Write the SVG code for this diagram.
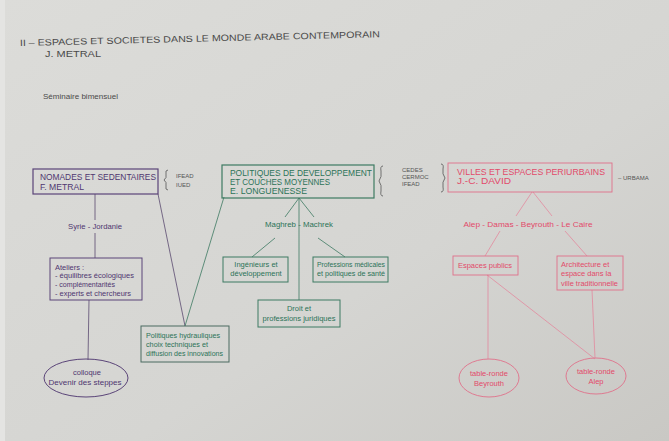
<svg xmlns="http://www.w3.org/2000/svg" width="669" height="441" viewBox="0 0 669 441">
<defs>
<linearGradient id="bg" x1="0" y1="0" x2="1" y2="1">
<stop offset="0" stop-color="#dcdcd9"/>
<stop offset="0.6" stop-color="#d5d5d2"/>
<stop offset="1" stop-color="#c9c8c4"/>
</linearGradient>
<style>
text{font-family:"Liberation Sans","DejaVu Sans",sans-serif;}
.t{fill:#4a4a4a;font-size:9px;}
.s{fill:#555;font-size:6px;}
.p{fill:#4f3670;}
.g{fill:#2c7358;}
.r{fill:#e24a6a;}
.pb{fill:none;stroke:#5a4478;stroke-width:1.2;}
.gb{fill:none;stroke:#3d7a62;stroke-width:1.2;}
.rb{fill:none;stroke:#e0708a;stroke-width:0.9;}
.pl{stroke:#5a4a70;stroke-width:0.8;fill:none;}
.gl{stroke:#3d7a62;stroke-width:0.8;fill:none;}
.rl{stroke:#e58098;stroke-width:0.7;fill:none;}
.br{stroke:#555;stroke-width:0.8;fill:none;}
.h{font-size:8.5px;}
.n{font-size:7.5px;}
.m{text-anchor:middle;}
</style>
</defs>
<rect x="0" y="0" width="669" height="441" fill="url(#bg)"/>
<rect x="0" y="0" width="5" height="441" fill="#e4e4e2"/>

<g id="title">
<text class="t" transform="rotate(-1.4 20 46)" x="20" y="46" textLength="360" lengthAdjust="spacingAndGlyphs">II – ESPACES ET SOCIETES DANS LE MONDE ARABE CONTEMPORAIN</text>
<text class="t" x="45" y="57" textLength="56" lengthAdjust="spacingAndGlyphs">J. METRAL</text>
<text class="t" x="43" y="99" style="font-size:8px" textLength="75" lengthAdjust="spacingAndGlyphs">Séminaire bimensuel</text>
</g>

<g id="connectors">
<line class="pl" x1="95" y1="194" x2="95" y2="220"/>
<line class="pl" x1="95" y1="233" x2="95" y2="258"/>
<line class="pl" x1="89" y1="300" x2="88" y2="360"/>
<line class="pl" x1="158" y1="194" x2="185" y2="326"/>
<line class="gl" x1="224" y1="197" x2="185" y2="326"/>
<line class="gl" x1="299" y1="198" x2="285" y2="217"/>
<line class="gl" x1="299" y1="198" x2="314" y2="217"/>
<line class="gl" x1="299" y1="198" x2="299" y2="300"/>
<line class="gl" x1="275" y1="238" x2="252" y2="257"/>
<line class="gl" x1="318" y1="238" x2="345" y2="257"/>
<line class="rl" x1="532" y1="192" x2="516" y2="216"/>
<line class="rl" x1="533" y1="192" x2="552" y2="216"/>
<line class="rl" x1="500" y1="231" x2="485" y2="256"/>
<line class="rl" x1="565" y1="231" x2="587" y2="256"/>
<line class="rl" x1="488" y1="275" x2="488" y2="359"/>
<line class="rl" x1="487" y1="275" x2="595" y2="359"/>
<line class="rl" x1="592" y1="290" x2="595" y2="358"/>
</g>

<g id="nomades">
<rect class="pb" x="33" y="169" width="125" height="25"/>
<text class="p h" x="40" y="180" textLength="116" lengthAdjust="spacingAndGlyphs">NOMADES ET SEDENTAIRES</text>
<text class="p h" x="40" y="190" textLength="44" lengthAdjust="spacingAndGlyphs">F. METRAL</text>
</g>
<g id="nomades-inst">
<path class="br" d="M168,170 q-3,0 -2,4 q1,4 -2,6 q3,2 2,6 q-1,4 2,4"/>
<text class="s" x="176" y="178">IFEAD</text>
<text class="s" x="176" y="187">IUED</text>
</g>
<g id="syrie">
<text class="p n m" x="95" y="229" textLength="54" lengthAdjust="spacingAndGlyphs">Syrie - Jordanie</text>
</g>
<g id="ateliers">
<rect class="pb" x="50" y="258" width="92" height="42" style="stroke-width:1"/>
<text class="p n" x="55" y="270">Ateliers :</text>
<text class="p n" x="55" y="278" textLength="79" lengthAdjust="spacingAndGlyphs">- équilibres écologiques</text>
<text class="p n" x="55" y="287" textLength="60" lengthAdjust="spacingAndGlyphs">- complémentarités</text>
<text class="p n" x="55" y="296" textLength="76" lengthAdjust="spacingAndGlyphs">- experts et chercheurs</text>
</g>
<g id="colloque">
<ellipse class="pb" cx="86" cy="378" rx="42" ry="19" style="stroke-width:1"/>
<text class="p n m" x="87" y="375">colloque</text>
<text class="p n m" x="85" y="385" textLength="73" lengthAdjust="spacingAndGlyphs">Devenir des steppes</text>
</g>
<g id="hydrauliques">
<rect class="gb" x="141" y="326" width="88" height="36" style="stroke:#4a6a60;stroke-width:1"/>
<text class="g n" x="146" y="338" textLength="74" lengthAdjust="spacingAndGlyphs">Politiques hydrauliques</text>
<text class="g n" x="146" y="347" textLength="62" lengthAdjust="spacingAndGlyphs">choix techniques et</text>
<text class="g n" x="146" y="356" textLength="77" lengthAdjust="spacingAndGlyphs">diffusion des innovations</text>
</g>

<g id="developpement">
<rect class="gb" x="222" y="165" width="152" height="33"/>
<text class="g h" x="230" y="176" textLength="142" lengthAdjust="spacingAndGlyphs">POLITIQUES DE DEVELOPPEMENT</text>
<text class="g h" x="230" y="185" textLength="100" lengthAdjust="spacingAndGlyphs">ET COUCHES MOYENNES</text>
<text class="g h" x="230" y="194" textLength="77" lengthAdjust="spacingAndGlyphs">E. LONGUENESSE</text>
</g>
<g id="instituts">
<path class="br" d="M383,166 q-3,0 -2,5 q1,6 -2,10 q3,4 2,10 q-1,5 2,5"/>
<text class="s" x="402" y="172">CEDES</text>
<text class="s" x="402" y="179">CERMOC</text>
<text class="s" x="402" y="186">IFEAD</text>
<path class="br" d="M441,164 q3,0 2,5 q-1,5 2,9 q-3,4 -2,9 q1,5 -2,5"/>
</g>
<g id="maghreb">
<text class="g n m" x="299" y="227" textLength="68" lengthAdjust="spacingAndGlyphs">Maghreb - Machrek</text>
</g>
<g id="ingenieurs">
<rect class="gb" x="223" y="257" width="65" height="25" style="stroke-width:1"/>
<text class="g n m" x="256" y="267">Ingénieurs et</text>
<text class="g n m" x="256" y="276">développement</text>
</g>
<g id="professions">
<rect class="gb" x="313" y="257" width="75" height="25" style="stroke-width:1"/>
<text class="g n m" x="351" y="267" textLength="68" lengthAdjust="spacingAndGlyphs">Professions médicales</text>
<text class="g n m" x="351" y="276" textLength="68" lengthAdjust="spacingAndGlyphs">et politiques de santé</text>
</g>
<g id="droit">
<rect class="gb" x="258" y="300" width="82" height="27" style="stroke-width:1"/>
<text class="g n m" x="299" y="311">Droit et</text>
<text class="g n m" x="299" y="321" textLength="73" lengthAdjust="spacingAndGlyphs">professions juridiques</text>
</g>

<g id="villes">
<rect class="rb" x="448" y="163" width="164" height="29"/>
<text class="r h" x="457" y="175" textLength="148" lengthAdjust="spacingAndGlyphs">VILLES ET ESPACES PERIURBAINS</text>
<text class="r h" x="457" y="184" textLength="54" lengthAdjust="spacingAndGlyphs">J.-C. DAVID</text>
</g>
<g id="urbama">
<text class="s" x="618" y="180">– URBAMA</text>
</g>
<g id="villes-list">
<text class="r n m" x="528" y="227" textLength="129" lengthAdjust="spacingAndGlyphs">Alep - Damas - Beyrouth - Le Caire</text>
</g>
<g id="espaces-publics">
<rect class="rb" x="453" y="256" width="65" height="19"/>
<text class="r n m" x="485" y="268">Espaces publics</text>
</g>
<g id="architecture">
<rect class="rb" x="557" y="256" width="66" height="34"/>
<text class="r n" x="561" y="267">Architecture et</text>
<text class="r n" x="561" y="276">espace dans la</text>
<text class="r n" x="561" y="286" textLength="57" lengthAdjust="spacingAndGlyphs">ville traditionnelle</text>
</g>
<g id="beyrouth">
<ellipse class="rb" cx="489" cy="378" rx="30" ry="19"/>
<text class="r n m" x="489" y="376">table-ronde</text>
<text class="r n m" x="489" y="386">Beyrouth</text>
</g>
<g id="alep">
<ellipse class="rb" cx="596" cy="376" rx="30" ry="18"/>
<text class="r n m" x="596" y="374">table-ronde</text>
<text class="r n m" x="596" y="384">Alep</text>
</g>
</svg>
